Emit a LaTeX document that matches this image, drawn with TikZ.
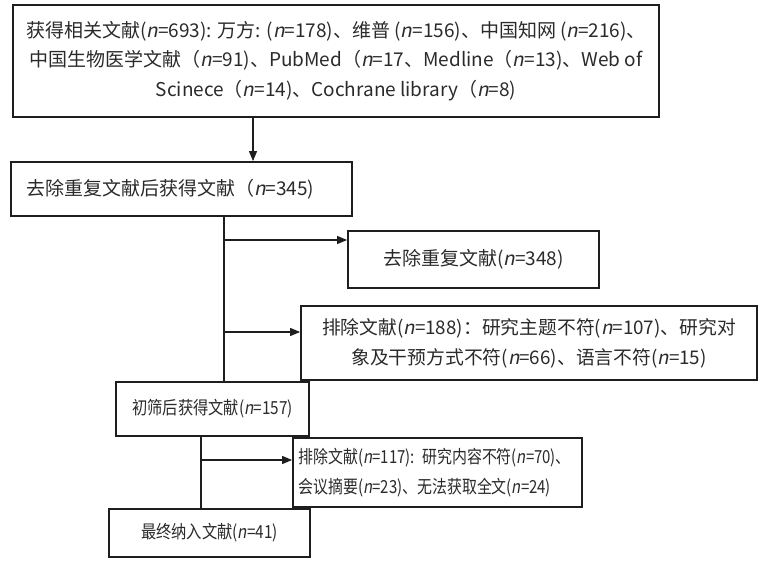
\documentclass[tikz,border=0pt]{standalone}
\usepackage{graphicx}
\usepackage{fontspec}
\setmainfont{Noto Sans CJK SC}[AutoFakeSlant=0.2]
\usetikzlibrary{arrows.meta, positioning, calc}
\definecolor{boxline}{HTML}{1E1E1E}
\definecolor{boxtext}{HTML}{2A2A2A}
\tikzset{
  flowbox/.style={draw=boxline, line width=0.9pt, inner sep=0pt, text=boxtext},
  bigtext/.style={font=\fontsize{9.5}{14.75}\selectfont},
  midtext/.style={font=\fontsize{9.4}{15}\selectfont},
  smalltext/.style={font=\fontsize{9}{15}\selectfont},
  link/.style={draw=boxline, line width=0.55pt},
  linkarr/.style={link, -{Triangle[length=5pt, width=4pt]}}
}
\newcommand{\nv}{\textit{n}}
\newcommand{\narrow}[2][0.85]{\scalebox{#1}[1]{#2}}

\begin{document}
\begin{tikzpicture}[x=0.5pt, y=-0.5pt]
\useasboundingbox (0,0) rectangle (759,561);
\node[flowbox, bigtext, minimum width=323pt, minimum height=56pt, align=center] (found) at (336,61)
  {获得相关文献(\nv=693): 万方: (\nv=178)、维普 (\nv=156)、中国知网 (\nv=216)、\\
   中国生物医学文献（\nv=91)、PubMed（\nv=17、Medline（\nv=13)、Web of\\
   Scinece（\nv=14)、Cochrane library（\nv=8)};
\node[flowbox, bigtext, minimum width=170.5pt, minimum height=27pt, text width=155.5pt, align=left] (dedup) at (181.5,189)
  {去除重复文献后获得文献（\nv=345)};
\node[flowbox, bigtext, minimum width=125.5pt, minimum height=28.5pt] (dup) at (473.5,259.5)
  {去除重复文献(\nv=348)};
\node[flowbox, midtext, minimum width=228pt, minimum height=37pt, align=center] (exclA) at (529,343)
  {排除文献(\nv=188)：研究主题不符(\nv=107)、研究对\\象及干预方式不符(\nv=66)、语言不符(\nv=15)};
\node[flowbox, smalltext, minimum width=96.5pt, minimum height=27pt] (screen) at (212.5,409)
  {\narrow{初筛后获得文献(\nv=157)}};
\node[flowbox, smalltext, minimum width=144.5pt, minimum height=34.5pt, text width=139pt, align=left] (exclB) at (437.5,472.5)
  {\narrow[0.83]{排除文献(\nv=117): 研究内容不符(\nv=70)、}\\\narrow[0.83]{会议摘要(\nv=23)、无法获取全文(\nv=24)}};
\node[flowbox, smalltext, minimum width=100.5pt, minimum height=24pt] (final) at (209.5,533)
  {\narrow{最终纳入文献(\nv=41)}};

% connectors
\coordinate (topx) at (253,0);
\coordinate (trunkA) at (224,0);
\coordinate (trunkB) at (201,0);
\coordinate (brA) at (224,240);
\coordinate (brB) at (224,332);
\coordinate (brC) at (201,460);
\draw[linkarr] (topx |- found.south) -- (topx |- dedup.north);
\draw[link] (trunkA |- dedup.south) -- (trunkA |- screen.north);
\draw[linkarr] (brA) -- (brA -| dup.west);
\draw[linkarr] (brB) -- (brB -| exclA.west);
\draw[link] (trunkB |- screen.south) -- (trunkB |- final.north);
\draw[linkarr] (brC) -- (brC -| exclB.west);
\end{tikzpicture}
\end{document}
